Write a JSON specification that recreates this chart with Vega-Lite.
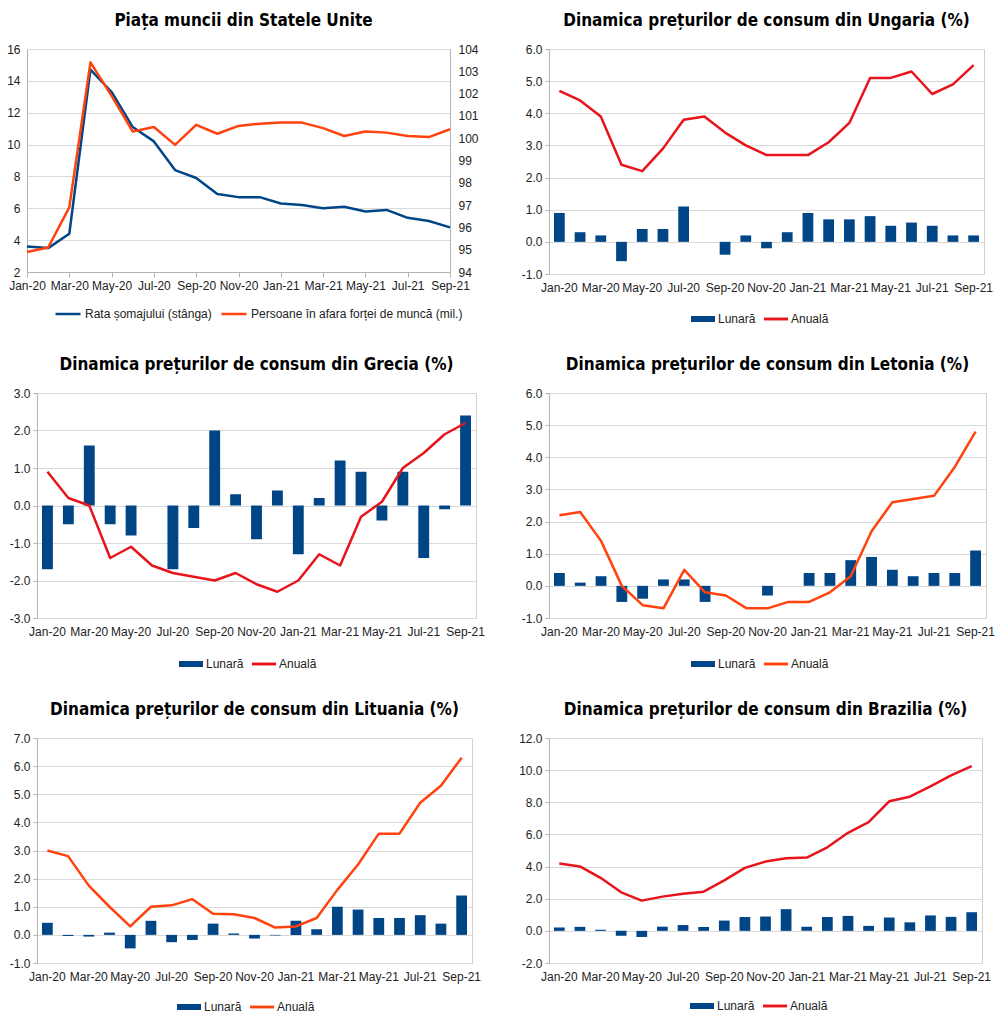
{
  "$schema": "https://vega.github.io/schema/vega-lite/v6.json",
  "background": "white",
  "padding": {"left": 6, "top": 11, "right": 5, "bottom": 2},
  "config": {
    "view": {"stroke": "#d0d0d0", "strokeWidth": 1},
    "font": "Liberation Sans",
    "title": {"font": "DejaVu Sans Condensed, Liberation Sans, sans-serif", "fontSize": 17, "fontWeight": "bold", "color": "#000000", "offset": 13, "anchor": "middle"},
    "axis": {"labelFont": "Liberation Sans", "labelFontSize": 12, "labelColor": "#222222", "domainColor": "#b3b3b3", "tickColor": "#b3b3b3", "gridColor": "#d9d9d9", "labelPadding": 3, "tickSize": 4, "labelOverlap": false, "tickCount": 30},
    "legend": {"labelFont": "Liberation Sans", "labelFontSize": 12, "labelColor": "#222222", "labelLimit": 400, "orient": "none", "direction": "horizontal", "columnPadding": 8, "labelOffset": 3, "symbolSize": 576, "symbolType": "M-1,-0.25H1V0.25H-1Z", "symbolStrokeWidth": 0},
    "line": {"strokeWidth": 2.5, "strokeJoin": "round"}
  },
  "datasets": {
    "us": [
      {"m": "Jan-20", "u": 3.6, "n": 94.9},
      {"m": "Feb-20", "u": 3.5, "n": 95.1},
      {"m": "Mar-20", "u": 4.4, "n": 96.9},
      {"m": "Apr-20", "u": 14.7, "n": 103.4},
      {"m": "May-20", "u": 13.3, "n": 101.9},
      {"m": "Jun-20", "u": 11.1, "n": 100.3},
      {"m": "Jul-20", "u": 10.2, "n": 100.5},
      {"m": "Aug-20", "u": 8.4, "n": 99.7},
      {"m": "Sep-20", "u": 7.9, "n": 100.6},
      {"m": "Oct-20", "u": 6.9, "n": 100.2},
      {"m": "Nov-20", "u": 6.7, "n": 100.55},
      {"m": "Dec-20", "u": 6.7, "n": 100.65},
      {"m": "Jan-21", "u": 6.3, "n": 100.7},
      {"m": "Feb-21", "u": 6.2, "n": 100.7},
      {"m": "Mar-21", "u": 6.0, "n": 100.45},
      {"m": "Apr-21", "u": 6.1, "n": 100.1},
      {"m": "May-21", "u": 5.8, "n": 100.3},
      {"m": "Jun-21", "u": 5.9, "n": 100.25},
      {"m": "Jul-21", "u": 5.4, "n": 100.1},
      {"m": "Aug-21", "u": 5.2, "n": 100.05},
      {"m": "Sep-21", "u": 4.8, "n": 100.4}
    ],
    "hu": [
      {"m": "Jan-20", "lun": 0.9, "an": 4.7},
      {"m": "Feb-20", "lun": 0.3, "an": 4.4},
      {"m": "Mar-20", "lun": 0.2, "an": 3.9},
      {"m": "Apr-20", "lun": -0.6, "an": 2.4},
      {"m": "May-20", "lun": 0.4, "an": 2.2},
      {"m": "Jun-20", "lun": 0.4, "an": 2.9},
      {"m": "Jul-20", "lun": 1.1, "an": 3.8},
      {"m": "Aug-20", "lun": 0.0, "an": 3.9},
      {"m": "Sep-20", "lun": -0.4, "an": 3.4},
      {"m": "Oct-20", "lun": 0.2, "an": 3.0},
      {"m": "Nov-20", "lun": -0.2, "an": 2.7},
      {"m": "Dec-20", "lun": 0.3, "an": 2.7},
      {"m": "Jan-21", "lun": 0.9, "an": 2.7},
      {"m": "Feb-21", "lun": 0.7, "an": 3.1},
      {"m": "Mar-21", "lun": 0.7, "an": 3.7},
      {"m": "Apr-21", "lun": 0.8, "an": 5.1},
      {"m": "May-21", "lun": 0.5, "an": 5.1},
      {"m": "Jun-21", "lun": 0.6, "an": 5.3},
      {"m": "Jul-21", "lun": 0.5, "an": 4.6},
      {"m": "Aug-21", "lun": 0.2, "an": 4.9},
      {"m": "Sep-21", "lun": 0.2, "an": 5.5}
    ],
    "gr": [
      {"m": "Jan-20", "lun": -1.7, "an": 0.9},
      {"m": "Feb-20", "lun": -0.5, "an": 0.2},
      {"m": "Mar-20", "lun": 1.6, "an": 0.0},
      {"m": "Apr-20", "lun": -0.5, "an": -1.4},
      {"m": "May-20", "lun": -0.8, "an": -1.1},
      {"m": "Jun-20", "lun": 0.0, "an": -1.6},
      {"m": "Jul-20", "lun": -1.7, "an": -1.8},
      {"m": "Aug-20", "lun": -0.6, "an": -1.9},
      {"m": "Sep-20", "lun": 2.0, "an": -2.0},
      {"m": "Oct-20", "lun": 0.3, "an": -1.8},
      {"m": "Nov-20", "lun": -0.9, "an": -2.1},
      {"m": "Dec-20", "lun": 0.4, "an": -2.3},
      {"m": "Jan-21", "lun": -1.3, "an": -2.0},
      {"m": "Feb-21", "lun": 0.2, "an": -1.3},
      {"m": "Mar-21", "lun": 1.2, "an": -1.6},
      {"m": "Apr-21", "lun": 0.9, "an": -0.3},
      {"m": "May-21", "lun": -0.4, "an": 0.1},
      {"m": "Jun-21", "lun": 0.9, "an": 1.0},
      {"m": "Jul-21", "lun": -1.4, "an": 1.4},
      {"m": "Aug-21", "lun": -0.1, "an": 1.9},
      {"m": "Sep-21", "lun": 2.4, "an": 2.2}
    ],
    "lv": [
      {"m": "Jan-20", "lun": 0.4, "an": 2.2},
      {"m": "Feb-20", "lun": 0.1, "an": 2.3},
      {"m": "Mar-20", "lun": 0.3, "an": 1.4},
      {"m": "Apr-20", "lun": -0.5, "an": 0.0},
      {"m": "May-20", "lun": -0.4, "an": -0.6},
      {"m": "Jun-20", "lun": 0.2, "an": -0.7},
      {"m": "Jul-20", "lun": 0.2, "an": 0.5},
      {"m": "Aug-20", "lun": -0.5, "an": -0.2},
      {"m": "Sep-20", "lun": 0.0, "an": -0.3},
      {"m": "Oct-20", "lun": 0.0, "an": -0.7},
      {"m": "Nov-20", "lun": -0.3, "an": -0.7},
      {"m": "Dec-20", "lun": 0.0, "an": -0.5},
      {"m": "Jan-21", "lun": 0.4, "an": -0.5},
      {"m": "Feb-21", "lun": 0.4, "an": -0.2},
      {"m": "Mar-21", "lun": 0.8, "an": 0.3},
      {"m": "Apr-21", "lun": 0.9, "an": 1.7},
      {"m": "May-21", "lun": 0.5, "an": 2.6},
      {"m": "Jun-21", "lun": 0.3, "an": 2.7},
      {"m": "Jul-21", "lun": 0.4, "an": 2.8},
      {"m": "Aug-21", "lun": 0.4, "an": 3.7},
      {"m": "Sep-21", "lun": 1.1, "an": 4.8}
    ],
    "lt": [
      {"m": "Jan-20", "lun": 0.43, "an": 3.0},
      {"m": "Feb-20", "lun": -0.04, "an": 2.8},
      {"m": "Mar-20", "lun": -0.06, "an": 1.75},
      {"m": "Apr-20", "lun": 0.08, "an": 1.0},
      {"m": "May-20", "lun": -0.48, "an": 0.3},
      {"m": "Jun-20", "lun": 0.5, "an": 1.0},
      {"m": "Jul-20", "lun": -0.26, "an": 1.05},
      {"m": "Aug-20", "lun": -0.18, "an": 1.27},
      {"m": "Sep-20", "lun": 0.4, "an": 0.75},
      {"m": "Oct-20", "lun": 0.05, "an": 0.73},
      {"m": "Nov-20", "lun": -0.13, "an": 0.6},
      {"m": "Dec-20", "lun": -0.02, "an": 0.26},
      {"m": "Jan-21", "lun": 0.5, "an": 0.3},
      {"m": "Feb-21", "lun": 0.2, "an": 0.6},
      {"m": "Mar-21", "lun": 1.0, "an": 1.6},
      {"m": "Apr-21", "lun": 0.9, "an": 2.5},
      {"m": "May-21", "lun": 0.6, "an": 3.6},
      {"m": "Jun-21", "lun": 0.6, "an": 3.6},
      {"m": "Jul-21", "lun": 0.7, "an": 4.7},
      {"m": "Aug-21", "lun": 0.4, "an": 5.3},
      {"m": "Sep-21", "lun": 1.4, "an": 6.3}
    ],
    "br": [
      {"m": "Jan-20", "lun": 0.21, "an": 4.19},
      {"m": "Feb-20", "lun": 0.25, "an": 4.01},
      {"m": "Mar-20", "lun": 0.07, "an": 3.3},
      {"m": "Apr-20", "lun": -0.31, "an": 2.4},
      {"m": "May-20", "lun": -0.38, "an": 1.88},
      {"m": "Jun-20", "lun": 0.26, "an": 2.13},
      {"m": "Jul-20", "lun": 0.36, "an": 2.31},
      {"m": "Aug-20", "lun": 0.24, "an": 2.44},
      {"m": "Sep-20", "lun": 0.64, "an": 3.14},
      {"m": "Oct-20", "lun": 0.86, "an": 3.92},
      {"m": "Nov-20", "lun": 0.89, "an": 4.31},
      {"m": "Dec-20", "lun": 1.35, "an": 4.52},
      {"m": "Jan-21", "lun": 0.25, "an": 4.56},
      {"m": "Feb-21", "lun": 0.86, "an": 5.2},
      {"m": "Mar-21", "lun": 0.93, "an": 6.1},
      {"m": "Apr-21", "lun": 0.31, "an": 6.76},
      {"m": "May-21", "lun": 0.83, "an": 8.06},
      {"m": "Jun-21", "lun": 0.53, "an": 8.35},
      {"m": "Jul-21", "lun": 0.96, "an": 8.99},
      {"m": "Aug-21", "lun": 0.87, "an": 9.68},
      {"m": "Sep-21", "lun": 1.16, "an": 10.25}
    ]
  },
  "resolve": {"scale": {"color": "independent"}, "legend": {"color": "independent"}},
  "columns": 2,
  "spacing": {"row": 29, "column": 33},
  "concat": [
    {
      "width": 413, "height": 223,
      "view": {"stroke": null},
      "title": "Piața muncii din Statele Unite",
      "data": {"name": "us"},
      "encoding": {
        "x": {"field": "m", "type": "ordinal", "sort": null, "scale": {"type": "point", "padding": 0, "range": [-10, 413]},
              "axis": {"title": null, "labelAngle": 0, "tickSize": 5, "grid": false,
                       "values": ["Jan-20","Mar-20","May-20","Jul-20","Sep-20","Nov-20","Jan-21","Mar-21","May-21","Jul-21","Sep-21"]}}
      },
      "layer": [
        {
          "mark": {"type": "line", "strokeWidth": 2.5},
          "encoding": {
            "y": {"field": "u", "type": "quantitative", "scale": {"domain": [2, 16], "nice": false, "zero": false},
                  "axis": {"title": null, "values": [2,4,6,8,10,12,14,16], "format": "d", "grid": true, "ticks": false, "labelPadding": 7, "offset": 10}},
            "color": {"datum": "Rata șomajului (stânga)", "type": "nominal",
                      "scale": {"domain": ["Rata șomajului (stânga)", "Persoane în afara forței de muncă (mil.)"], "range": ["#004586", "#ff420e"]},
                      "legend": {"title": null, "legendX": 17, "legendY": 251, "symbolSize": 625, "symbolType": "stroke",
                                 "encode": {"symbols": {"update": {"shape": {"value": "stroke"}, "stroke": {"signal": "indexof(datum.value, 'Rata') === 0 ? '#004586' : '#ff420e'"}, "strokeWidth": {"value": 3}}}}}}
          }
        },
        {
          "mark": {"type": "line", "strokeWidth": 2.5},
          "encoding": {
            "y": {"field": "n", "type": "quantitative", "scale": {"domain": [94, 104], "nice": false, "zero": false},
                  "axis": {"title": null, "orient": "right", "values": [94,95,96,97,98,99,100,101,102,103,104], "format": "d", "grid": false, "ticks": false, "labelPadding": 8}},
            "color": {"datum": "Persoane în afara forței de muncă (mil.)", "type": "nominal"}
          }
        }
      ],
      "resolve": {"scale": {"y": "independent"}, "axis": {"y": "independent"}}
    },
    {
      "width": 435, "height": 225,
      "title": "Dinamica prețurilor de consum din Ungaria (%)",
      "data": {"name": "hu"},
      "encoding": {
        "x": {"field": "m", "type": "ordinal", "sort": null, "scale": {"paddingInner": 0, "paddingOuter": 0},
              "axis": {"title": null, "labelAngle": 0, "ticks": false, "domain": false, "grid": false, "labelPadding": 8,
                       "labelExpr": "indexof(['Jan-20','Mar-20','May-20','Jul-20','Sep-20','Nov-20','Jan-21','Mar-21','May-21','Jul-21','Sep-21'], datum.label) >= 0 ? datum.label : ''"}}
      },
      "layer": [
        {
          "mark": {"type": "bar", "width": {"band": 0.52}, "color": "#004586"},
          "encoding": {
            "y": {"field": "lun", "type": "quantitative", "scale": {"domain": [-1, 6], "nice": false},
                  "axis": {"title": null, "values": [-1,0,1,2,3,4,5,6], "format": ".1f", "grid": true, "labelExpr": "replace(datum.label, '\u2212', '-')"}},
            "color": {"datum": "Lunară", "type": "nominal",
                      "scale": {"domain": ["Lunară", "Anuală"], "range": ["#004586", "#e8141c"]},
                      "legend": {"title": null, "legendX": 142, "legendY": 258,
                                 "encode": {"symbols": {"update": {"shape": {"signal": "datum.value === 'Lunară' ? 'M-1,-0.25H1V0.25H-1Z' : 'M-1,-0.12H1V0.12H-1Z'"}, "fill": {"signal": "datum.value === 'Lunară' ? '#004586' : '#e8141c'"}, "strokeWidth": {"value": 0}}}}}}
          }
        },
        {
          "mark": {"type": "line", "strokeWidth": 2.5},
          "encoding": {
            "y": {"field": "an", "type": "quantitative"},
            "color": {"datum": "Anuală", "type": "nominal"}
          }
        }
      ]
    },
    {
      "width": 439, "height": 225,
      "title": "Dinamica prețurilor de consum din Grecia (%)",
      "data": {"name": "gr"},
      "encoding": {
        "x": {"field": "m", "type": "ordinal", "sort": null, "scale": {"paddingInner": 0, "paddingOuter": 0},
              "axis": {"title": null, "labelAngle": 0, "ticks": false, "domain": false, "grid": false, "labelPadding": 8,
                       "labelExpr": "indexof(['Jan-20','Mar-20','May-20','Jul-20','Sep-20','Nov-20','Jan-21','Mar-21','May-21','Jul-21','Sep-21'], datum.label) >= 0 ? datum.label : ''"}}
      },
      "layer": [
        {
          "mark": {"type": "bar", "width": {"band": 0.52}, "color": "#004586"},
          "encoding": {
            "y": {"field": "lun", "type": "quantitative", "scale": {"domain": [-3, 3], "nice": false},
                  "axis": {"title": null, "values": [-3,-2,-1,0,1,2,3], "format": ".1f", "grid": true, "labelExpr": "replace(datum.label, '\u2212', '-')"}},
            "color": {"datum": "Lunară", "type": "nominal",
                      "scale": {"domain": ["Lunară", "Anuală"], "range": ["#004586", "#e8141c"]},
                      "legend": {"title": null, "legendX": 142, "legendY": 259,
                                 "encode": {"symbols": {"update": {"shape": {"signal": "datum.value === 'Lunară' ? 'M-1,-0.25H1V0.25H-1Z' : 'M-1,-0.12H1V0.12H-1Z'"}, "fill": {"signal": "datum.value === 'Lunară' ? '#004586' : '#e8141c'"}, "strokeWidth": {"value": 0}}}}}}
          }
        },
        {
          "mark": {"type": "line", "strokeWidth": 2.5},
          "encoding": {
            "y": {"field": "an", "type": "quantitative"},
            "color": {"datum": "Anuală", "type": "nominal"}
          }
        }
      ]
    },
    {
      "width": 437, "height": 225,
      "title": "Dinamica prețurilor de consum din Letonia (%)",
      "data": {"name": "lv"},
      "encoding": {
        "x": {"field": "m", "type": "ordinal", "sort": null, "scale": {"paddingInner": 0, "paddingOuter": 0},
              "axis": {"title": null, "labelAngle": 0, "ticks": false, "domain": false, "grid": false, "labelPadding": 8,
                       "labelExpr": "indexof(['Jan-20','Mar-20','May-20','Jul-20','Sep-20','Nov-20','Jan-21','Mar-21','May-21','Jul-21','Sep-21'], datum.label) >= 0 ? datum.label : ''"}}
      },
      "layer": [
        {
          "mark": {"type": "bar", "width": {"band": 0.52}, "color": "#004586"},
          "encoding": {
            "y": {"field": "lun", "type": "quantitative", "scale": {"domain": [-1, 6], "nice": false},
                  "axis": {"title": null, "values": [-1,0,1,2,3,4,5,6], "format": ".1f", "grid": true, "labelExpr": "replace(datum.label, '\u2212', '-')"}},
            "color": {"datum": "Lunară", "type": "nominal",
                      "scale": {"domain": ["Lunară", "Anuală"], "range": ["#004586", "#ff420e"]},
                      "legend": {"title": null, "legendX": 142, "legendY": 259,
                                 "encode": {"symbols": {"update": {"shape": {"signal": "datum.value === 'Lunară' ? 'M-1,-0.25H1V0.25H-1Z' : 'M-1,-0.12H1V0.12H-1Z'"}, "fill": {"signal": "datum.value === 'Lunară' ? '#004586' : '#ff420e'"}, "strokeWidth": {"value": 0}}}}}}
          }
        },
        {
          "mark": {"type": "line", "strokeWidth": 2.5},
          "encoding": {
            "y": {"field": "an", "type": "quantitative"},
            "color": {"datum": "Anuală", "type": "nominal"}
          }
        }
      ]
    },
    {
      "width": 435, "height": 225,
      "title": "Dinamica prețurilor de consum din Lituania (%)",
      "data": {"name": "lt"},
      "encoding": {
        "x": {"field": "m", "type": "ordinal", "sort": null, "scale": {"paddingInner": 0, "paddingOuter": 0},
              "axis": {"title": null, "labelAngle": 0, "ticks": false, "domain": false, "grid": false, "labelPadding": 8,
                       "labelExpr": "indexof(['Jan-20','Mar-20','May-20','Jul-20','Sep-20','Nov-20','Jan-21','Mar-21','May-21','Jul-21','Sep-21'], datum.label) >= 0 ? datum.label : ''"}}
      },
      "layer": [
        {
          "mark": {"type": "bar", "width": {"band": 0.52}, "color": "#004586"},
          "encoding": {
            "y": {"field": "lun", "type": "quantitative", "scale": {"domain": [-1, 7], "nice": false},
                  "axis": {"title": null, "values": [-1,0,1,2,3,4,5,6,7], "format": ".1f", "grid": true, "labelExpr": "replace(datum.label, '\u2212', '-')"}},
            "color": {"datum": "Lunară", "type": "nominal",
                      "scale": {"domain": ["Lunară", "Anuală"], "range": ["#004586", "#ff420e"]},
                      "legend": {"title": null, "legendX": 140, "legendY": 257,
                                 "encode": {"symbols": {"update": {"shape": {"signal": "datum.value === 'Lunară' ? 'M-1,-0.25H1V0.25H-1Z' : 'M-1,-0.12H1V0.12H-1Z'"}, "fill": {"signal": "datum.value === 'Lunară' ? '#004586' : '#ff420e'"}, "strokeWidth": {"value": 0}}}}}}
          }
        },
        {
          "mark": {"type": "line", "strokeWidth": 2.5},
          "encoding": {
            "y": {"field": "an", "type": "quantitative"},
            "color": {"datum": "Anuală", "type": "nominal"}
          }
        }
      ]
    },
    {
      "width": 433, "height": 225,
      "title": "Dinamica prețurilor de consum din Brazilia (%)",
      "data": {"name": "br"},
      "encoding": {
        "x": {"field": "m", "type": "ordinal", "sort": null, "scale": {"paddingInner": 0, "paddingOuter": 0},
              "axis": {"title": null, "labelAngle": 0, "ticks": false, "domain": false, "grid": false, "labelPadding": 8,
                       "labelExpr": "indexof(['Jan-20','Mar-20','May-20','Jul-20','Sep-20','Nov-20','Jan-21','Mar-21','May-21','Jul-21','Sep-21'], datum.label) >= 0 ? datum.label : ''"}}
      },
      "layer": [
        {
          "mark": {"type": "bar", "width": {"band": 0.52}, "color": "#004586"},
          "encoding": {
            "y": {"field": "lun", "type": "quantitative", "scale": {"domain": [-2, 12], "nice": false},
                  "axis": {"title": null, "values": [-2,0,2,4,6,8,10,12], "format": ".1f", "grid": true, "labelExpr": "replace(datum.label, '\u2212', '-')"}},
            "color": {"datum": "Lunară", "type": "nominal",
                      "scale": {"domain": ["Lunară", "Anuală"], "range": ["#004586", "#e8141c"]},
                      "legend": {"title": null, "legendX": 141, "legendY": 256,
                                 "encode": {"symbols": {"update": {"shape": {"signal": "datum.value === 'Lunară' ? 'M-1,-0.25H1V0.25H-1Z' : 'M-1,-0.12H1V0.12H-1Z'"}, "fill": {"signal": "datum.value === 'Lunară' ? '#004586' : '#e8141c'"}, "strokeWidth": {"value": 0}}}}}}
          }
        },
        {
          "mark": {"type": "line", "strokeWidth": 2.5},
          "encoding": {
            "y": {"field": "an", "type": "quantitative"},
            "color": {"datum": "Anuală", "type": "nominal"}
          }
        }
      ]
    }
  ]
}
